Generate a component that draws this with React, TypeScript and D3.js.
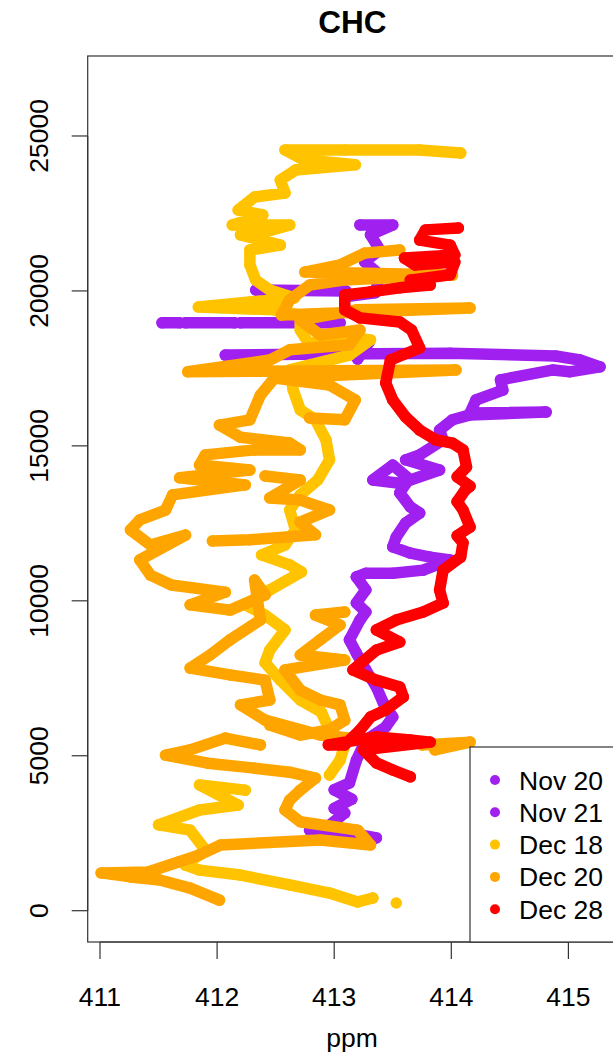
import React from "react";
import * as d3 from "d3";

type Pt = [number, number];

const title = "CHC";
const xLabel = "ppm";
const xTicks = [411, 412, 413, 414, 415];
const yTicks = [0, 5000, 10000, 15000, 20000, 25000];

const seriesNames = ["Nov 20", "Nov 21", "Dec 18", "Dec 20", "Dec 28"];
const seriesColors = ["#A020F0", "#A020F0", "#FFC300", "#FFA500", "#FF0000"];

const nov20: Pt[][] = [
  [[413.19,10770],[413.27,10350],[413.19,9930],[413.27,9640],[413.22,9380],[413.13,8740],[413.19,8310],[413.27,7770],[413.36,7220],[413.42,6700],[413.50,6250],[413.44,5930],[413.27,5510],[413.19,4860],[413.13,4120],[413.0,3900],[413.15,3600],[413.0,3300],[413.09,3150],[412.96,2760],[412.79,2600],[413.13,2510],[413.36,2350]],
];

const nov21: Pt[][] = [
  [[413.22,22130],[413.50,22130],[413.31,21810],[413.39,21320],[413.26,20940],[413.39,20520],[413.35,19940],[413.09,19810]],
  [[413.1,20000],[412.33,20030]],
  [[411.53,18970],[411.68,18970]],
  [[411.73,18970],[412.15,18970]],
  [[412.2,18970],[413.05,18970]],
  [[413.05,18200],[413.3,18350],[413.2,17800]],
  [[412.07,17930],[412.71,17960],[413.99,17990],[414.89,17900],[415.10,17770],[415.27,17550],[415.01,17390],[414.87,17450],[414.42,17130],[414.44,16800],[414.21,16480],[414.16,16060],[414.81,16090],[414.16,16000],[414.01,15840],[413.90,15510],[413.93,15190],[413.73,14710],[413.61,14550],[413.90,14220],[413.65,13900],[413.50,14380],[413.33,13900],[413.61,13770],[413.56,13480],[413.65,13030],[413.73,12830],[413.61,12510],[413.53,12060],[413.50,11740],[413.65,11540],[413.82,11410],[413.99,11320],[413.76,10990],[413.50,10890],[413.27,10890],[413.19,10770]],
];

const dec18: Pt[][] = [
  [[414.08,24450],[413.73,24550],[413.09,24550],[412.58,24550],[412.74,24230],[413.18,24070],[412.67,23900],[412.54,23580],[412.58,23160],[412.32,23030],[412.18,22610],[412.39,22450],[412.13,22130],[412.62,22130],[412.41,21900],[412.20,21810],[412.54,21480],[412.28,21320],[412.28,20840],[412.33,20350],[412.45,20030],[412.66,19770],[412.28,19640],[411.84,19480],[412.49,19390],[412.71,19220],[412.71,18740],[412.79,18260],[412.96,18580],[413.31,18420],[413.13,17930],[412.62,17450],[412.65,16800],[412.71,16160],[412.84,15840],[412.93,15190],[412.96,14550],[412.86,13900],[412.71,13420],[412.62,12930],[412.67,12290],[412.58,11800],[412.38,11480],[412.62,11160],[412.72,10930],[412.45,10350],[412.24,9870],[412.41,9540],[412.58,9060],[412.45,8410],[412.41,8000],[412.54,7440],[412.71,6800],[412.89,6410],[412.96,5830],[413.09,5350],[413.05,4860],[412.96,4380]],
  [[412.24,3890],[411.85,4060],[412.18,3410],[411.85,3250],[411.50,2770],[411.77,2600],[411.90,1960],[411.73,1470],[411.85,1310],[412.20,1150],[412.62,830],[412.96,570],[413.20,280],[413.33,410]],
  [[413.53,250]],
];

const dec20: Pt[][] = [
  [[413.56,21320],[413.26,21220],[413.05,20840],[412.75,20610],[414.01,20510],[413.08,20350],[412.79,20190],[412.62,19710],[412.55,19220],[414.16,19450],[413.19,19390],[412.71,19060],[412.88,18580],[413.22,18740],[413.13,18260],[412.62,18100],[412.45,17770],[411.75,17390],[414.04,17450],[412.49,17190],[412.96,16960],[413.18,16480],[413.09,15840],[412.79,15900]],
  [[412.49,17190],[412.37,16640],[412.28,15840],[412.02,15670],[412.20,15280],[412.62,15090],[412.71,14870],[412.32,14870],[411.90,14710],[411.85,14380],[412.28,14220],[411.68,13970],[412.24,13740],[411.62,13420],[411.56,12930],[411.34,12610],[411.26,12290],[411.43,11800],[411.73,12120],[411.34,11320],[411.43,10830],[411.61,10510],[412.07,10280],[411.77,9870],[412.11,9700],[412.41,10190],[412.32,10670],[412.37,9380],[412.11,8740],[411.94,8250],[411.77,7830],[412.11,7610],[412.41,7440],[412.45,6800],[412.20,6640],[412.41,6150],[412.88,5670],[413.3,5500]],
  [[413.75,5350],[414.16,5440],[413.86,5190]],
  [[412.37,5350],[412.07,5570],[411.77,5190],[411.56,5020],[411.92,4760],[412.32,4600],[412.62,4470],[412.84,4280],[412.71,3890],[412.62,3570],[412.58,3250],[412.71,2870],[413.20,2600],[413.31,2120],[412.88,2280],[412.03,2120],[411.85,1800],[411.67,1570],[411.41,1250],[411.01,1220],[411.26,1090],[411.51,990],[411.77,730],[412.02,340]],
  [[412.41,14030],[412.71,13900],[412.45,13320],[412.71,13250],[412.96,12930],[412.71,12540],[412.84,12130],[412.28,11970],[411.96,11930]],
  [[413.09,9640],[412.84,9540],[413.05,9220],[412.88,8740],[412.71,8250],[413.09,8090],[412.58,7770],[412.71,7120],[412.88,6800],[413.05,6640],[413.09,6150],[412.96,5830],[412.71,5670],[412.45,5990]],
];

const dec28: Pt[][] = [
  [[414.06,22030],[413.78,21970],[413.73,21640],[413.99,21480],[414.03,21160],[413.60,21060],[413.69,20840],[414.03,20930],[413.99,20520],[413.65,20350],[413.82,20190],[413.56,20100],[413.31,19970],[413.09,19870],[413.09,19390],[413.22,19130],[413.56,19000],[413.66,18740],[413.73,18160],[413.48,17770],[413.44,17030],[413.50,16480],[413.61,15930],[413.73,15510],[413.87,15190],[414.01,15090],[414.10,14870],[414.13,14320],[414.05,14000],[414.16,13700],[414.12,13580],[414.05,13200],[414.10,12930],[414.16,12380],[414.05,12100],[414.10,11870],[414.08,11410],[413.93,10990],[413.90,10350],[413.93,9930],[413.76,9640],[413.53,9380],[413.36,9060],[413.56,8670],[413.36,8410],[413.16,7770],[413.36,7440],[413.56,7220],[413.59,6900],[413.44,6480],[413.31,6250],[413.22,5830],[413.09,5350],[412.95,5350],[413.36,5610],[413.65,5510],[413.82,5440],[413.25,5190],[413.36,4770],[413.50,4540],[413.65,4320]],
];

const allSeries = [nov20, nov21, dec18, dec20, dec28];

const W = 613;
const H = 1058;
const plotLeft = 87.7;
const plotRight = 617;
const plotTop = 56;
const plotBottom = 942;

const x = d3.scaleLinear().domain([410.895, 415.415]).range([plotLeft, plotRight]);
const y = d3.scaleLinear().domain([-1010, 27581]).range([plotBottom, plotTop]);

const font = "'Liberation Sans', Arial, Helvetica, sans-serif";
const axisColor = "#333";

export default function App() {
  const line = d3.line<Pt>().x((d) => x(d[0])).y((d) => y(d[1]));
  const legendX = 470;
  const legendY = 747;
  const rowY0 = 780;
  const rowGap = 32.3;
  return (
    <svg width={W} height={H} style={{ position: "absolute", left: 0, top: 0, background: "#fff" }}>
      <rect x={0} y={0} width={W} height={H} fill="#fff" />
      <text x={(plotLeft + plotRight) / 2} y={33} textAnchor="middle" fontFamily={font} fontWeight="bold" fontSize={31.5} fill="#000">
        {title}
      </text>
      <g>
        {allSeries.map((segs, si) => (
          <g key={si}>
            {segs.map((seg, gi) => (
              <g key={gi}>
                {seg.length > 1 && (
                  <path d={line(seg) || ""} fill="none" stroke={seriesColors[si]} strokeWidth={11.5} strokeLinecap="round" strokeLinejoin="round" />
                )}
                {seg.map((p, pi) => (
                  <circle key={pi} cx={x(p[0])} cy={y(p[1])} r={5.75} fill={seriesColors[si]} />
                ))}
              </g>
            ))}
          </g>
        ))}
      </g>
      <rect x={plotLeft} y={plotTop} width={plotRight - plotLeft} height={plotBottom - plotTop} fill="none" stroke={axisColor} strokeWidth={1.2} />
      <line x1={x(xTicks[0])} x2={x(xTicks[xTicks.length - 1])} y1={plotBottom} y2={plotBottom} stroke={axisColor} strokeWidth={1.2} />
      {xTicks.map((t) => (
        <g key={t}>
          <line x1={x(t)} x2={x(t)} y1={plotBottom} y2={plotBottom + 17} stroke={axisColor} strokeWidth={1.2} />
          <text x={x(t)} y={1006} textAnchor="middle" fontFamily={font} fontSize={26.5} fill="#000">
            {t}
          </text>
        </g>
      ))}
      <text x={352} y={1047} textAnchor="middle" fontFamily={font} fontSize={26.5} fill="#000">
        {xLabel}
      </text>
      <line x1={plotLeft} x2={plotLeft} y1={y(yTicks[0])} y2={y(yTicks[yTicks.length - 1])} stroke={axisColor} strokeWidth={1.2} />
      {yTicks.map((t) => (
        <g key={t}>
          <line x1={plotLeft - 16} x2={plotLeft} y1={y(t)} y2={y(t)} stroke={axisColor} strokeWidth={1.2} />
          <text transform={`translate(48, ${y(t)}) rotate(-90)`} textAnchor="middle" fontFamily={font} fontSize={26.5} fill="#000">
            {t}
          </text>
        </g>
      ))}
      <rect x={legendX} y={legendY} width={200} height={plotBottom - legendY} fill="#fff" stroke={axisColor} strokeWidth={1.2} />
      {seriesNames.map((n, i) => (
        <g key={n}>
          <circle cx={495} cy={rowY0 + i * rowGap} r={5} fill={seriesColors[i]} />
          <text x={519} y={rowY0 + i * rowGap + 9.5} fontFamily={font} fontSize={26.5} fill="#000">
            {n}
          </text>
        </g>
      ))}
    </svg>
  );
}
